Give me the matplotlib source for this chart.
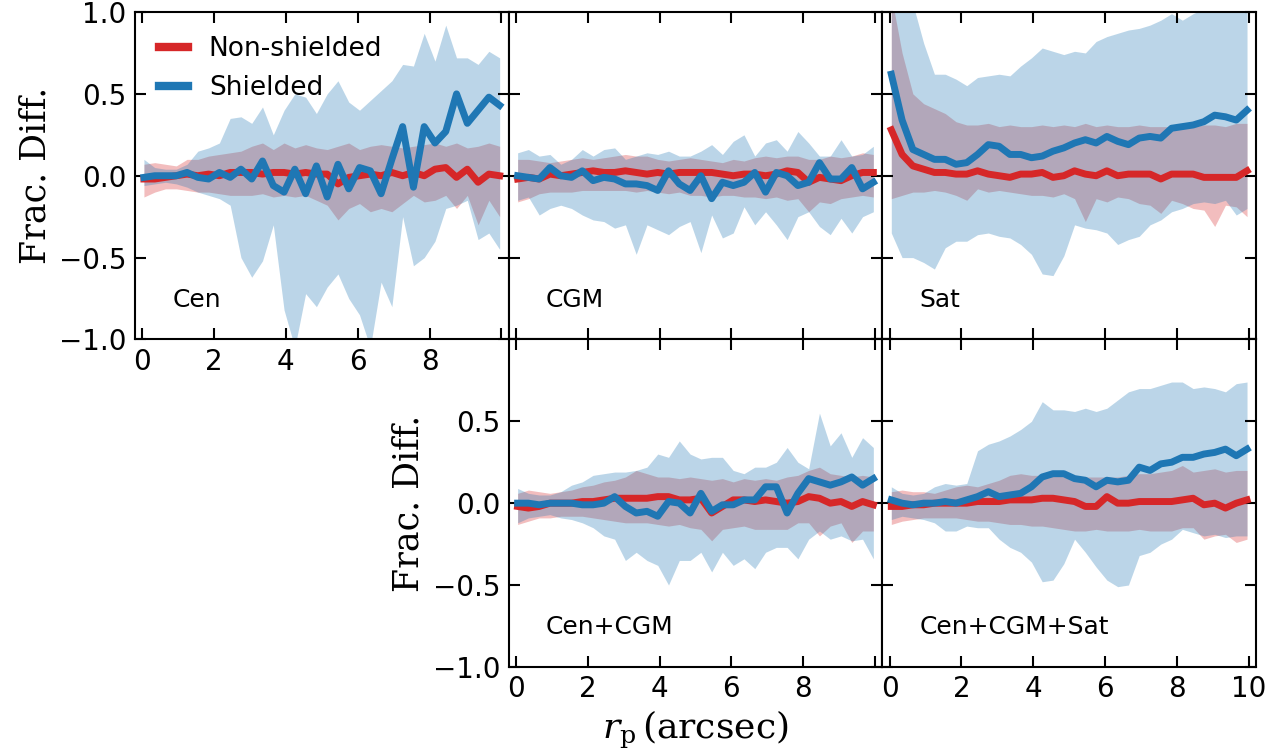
import matplotlib
matplotlib.use("Agg")
import matplotlib.pyplot as plt

plt.rcParams['mathtext.fontset'] = 'dejavuserif'

# projected radius bins (arcsec)
rp = [0.05, 0.35, 0.65, 0.95, 1.25, 1.55, 1.85, 2.15, 2.45, 2.75, 3.05, 3.35,
      3.65, 3.95, 4.25, 4.55, 4.85, 5.15, 5.45, 5.75, 6.05, 6.35, 6.65, 6.95,
      7.25, 7.55, 7.85, 8.15, 8.45, 8.75, 9.05, 9.35, 9.65, 9.95]

# Cen
cen_red = [-0.02, -0.02, -0.01, 0.0, 0.01, 0.0, 0.01, 0.0, 0.02, 0.02, 0.02, 0.01, 0.02, 0.02, 0.01, 0.02, 0.01,
           0.01, -0.05, -0.01, 0.0, 0.01, 0.0, 0.02, 0.0, 0.02, 0.0, 0.04, 0.05, -0.01, 0.04, -0.04, 0.01, 0.0]
cen_red_lo = [-0.13, -0.1, -0.08, -0.08, -0.09, -0.1, -0.1, -0.11, -0.12, -0.12, -0.12, -0.11, -0.13, -0.12, -0.13,
              -0.12, -0.15, -0.18, -0.27, -0.2, -0.17, -0.22, -0.2, -0.22, -0.17, -0.12, -0.16, -0.15, -0.12, -0.2,
              -0.12, -0.3, -0.15, -0.25]
cen_red_hi = [0.07, 0.08, 0.07, 0.06, 0.1, 0.1, 0.12, 0.13, 0.14, 0.15, 0.18, 0.2, 0.16, 0.2, 0.17, 0.19, 0.17,
              0.16, 0.18, 0.2, 0.16, 0.18, 0.19, 0.18, 0.17, 0.18, 0.19, 0.2, 0.18, 0.2, 0.17, 0.18, 0.2, 0.18]
cen_blue = [-0.01, 0.0, 0.0, 0.0, 0.02, -0.01, -0.02, 0.02, -0.01, 0.04, -0.02, 0.09, -0.06, -0.1, 0.04, -0.11,
            0.06, -0.13, 0.07, -0.08, 0.05, 0.03, -0.11, 0.1, 0.3, -0.07, 0.3, 0.2, 0.27, 0.5, 0.32, 0.4, 0.48, 0.43]
cen_blue_lo = [-0.06, -0.05, -0.04, -0.05, -0.07, -0.1, -0.12, -0.14, -0.18, -0.5, -0.62, -0.52, -0.3, -0.82,
               -1.05, -0.72, -0.8, -0.68, -0.6, -0.75, -0.85, -1.05, -0.65, -0.8, -0.25, -0.55, -0.5, -0.4, -0.2,
               -0.18, -0.15, -0.39, -0.35, -0.45]
cen_blue_hi = [0.1, 0.05, 0.04, 0.04, 0.07, 0.15, 0.17, 0.2, 0.35, 0.36, 0.32, 0.42, 0.25, 0.4, 0.5, 0.48, 0.38,
               0.5, 0.58, 0.45, 0.4, 0.46, 0.52, 0.58, 0.68, 0.67, 0.87, 0.7, 0.92, 0.72, 0.72, 0.68, 0.76, 0.72]

# CGM
cgm_red = [-0.02, -0.01, -0.02, 0.01, 0.0, 0.01, 0.02, 0.03, 0.02, 0.02, 0.03, 0.02, 0.01, 0.02, 0.01, 0.02, 0.02,
           0.02, 0.02, 0.01, 0.0, 0.01, 0.01, 0.0, 0.01, 0.03, 0.02, -0.04, -0.01, -0.02, -0.03, 0.0, 0.02, 0.02]
cgm_red_lo = [-0.16, -0.14, -0.11, -0.1, -0.1, -0.1, -0.09, -0.09, -0.09, -0.09, -0.09, -0.1, -0.09, -0.1, -0.11,
              -0.1, -0.12, -0.12, -0.13, -0.12, -0.12, -0.13, -0.13, -0.14, -0.13, -0.15, -0.14, -0.22, -0.16,
              -0.17, -0.14, -0.13, -0.12, -0.13]
cgm_red_hi = [0.1, 0.1, 0.09, 0.08, 0.09, 0.1, 0.11, 0.1, 0.11, 0.12, 0.13, 0.12, 0.12, 0.1, 0.09, 0.1, 0.11, 0.1,
              0.09, 0.08, 0.1, 0.09, 0.11, 0.12, 0.11, 0.12, 0.12, 0.1, 0.1, 0.12, 0.11, 0.12, 0.14, 0.13]
cgm_blue = [0.0, -0.01, -0.02, 0.05, 0.0, -0.01, 0.03, -0.03, -0.01, -0.02, -0.05, -0.05, -0.06, -0.09, 0.03,
            -0.05, -0.09, 0.0, -0.14, -0.04, -0.06, -0.04, 0.02, -0.1, 0.02, 0.0, -0.06, -0.04, 0.08, -0.02, -0.02,
            0.05, -0.08, -0.04]
cgm_blue_lo = [-0.15, -0.13, -0.24, -0.2, -0.18, -0.2, -0.24, -0.27, -0.28, -0.32, -0.3, -0.48, -0.3, -0.33,
               -0.36, -0.31, -0.28, -0.47, -0.24, -0.38, -0.35, -0.19, -0.3, -0.22, -0.3, -0.39, -0.25, -0.22,
               -0.31, -0.36, -0.26, -0.35, -0.25, -0.22]
cgm_blue_hi = [0.14, 0.16, 0.12, 0.13, 0.07, 0.1, 0.16, 0.12, 0.16, 0.17, 0.1, 0.12, 0.14, 0.13, 0.15, 0.12, 0.12,
               0.15, 0.19, 0.13, 0.21, 0.25, 0.12, 0.2, 0.22, 0.15, 0.27, 0.2, 0.12, 0.12, 0.22, 0.12, 0.13, 0.18]

# Sat
sat_red = [0.28, 0.13, 0.06, 0.04, 0.02, 0.02, 0.01, 0.01, 0.03, 0.01, 0.0, -0.01, 0.01, 0.01, 0.02, -0.01, 0.0,
           0.03, 0.01, 0.0, 0.03, 0.0, 0.01, 0.01, 0.01, -0.02, 0.01, 0.01, 0.01, -0.01, -0.01, -0.01, -0.01, 0.03]
sat_red_lo = [-0.14, -0.12, -0.1, -0.1, -0.09, -0.1, -0.12, -0.15, -0.08, -0.1, -0.09, -0.1, -0.11, -0.12, -0.12,
              -0.13, -0.11, -0.14, -0.28, -0.14, -0.16, -0.13, -0.14, -0.17, -0.18, -0.23, -0.15, -0.17, -0.2,
              -0.21, -0.31, -0.18, -0.19, -0.25]
sat_red_hi = [1.1, 0.75, 0.5, 0.44, 0.41, 0.38, 0.33, 0.31, 0.31, 0.32, 0.3, 0.31, 0.3, 0.3, 0.31, 0.3, 0.31, 0.3,
              0.32, 0.3, 0.31, 0.3, 0.3, 0.31, 0.3, 0.3, 0.3, 0.31, 0.3, 0.31, 0.31, 0.3, 0.32, 0.32]
sat_blue = [0.62, 0.34, 0.16, 0.13, 0.1, 0.1, 0.07, 0.08, 0.13, 0.19, 0.18, 0.13, 0.13, 0.11, 0.12, 0.15, 0.17,
            0.2, 0.22, 0.2, 0.24, 0.21, 0.19, 0.23, 0.24, 0.23, 0.29, 0.3, 0.31, 0.33, 0.37, 0.36, 0.34, 0.4]
sat_blue_lo = [-0.35, -0.5, -0.5, -0.53, -0.57, -0.44, -0.4, -0.4, -0.36, -0.35, -0.37, -0.38, -0.42, -0.48, -0.6,
               -0.61, -0.49, -0.3, -0.32, -0.33, -0.35, -0.42, -0.39, -0.37, -0.3, -0.27, -0.22, -0.2, -0.17,
               -0.16, -0.17, -0.15, -0.24, -0.2]
sat_blue_hi = [1.6, 1.4, 1.05, 0.81, 0.62, 0.62, 0.59, 0.55, 0.6, 0.61, 0.62, 0.61, 0.67, 0.72, 0.78, 0.76, 0.74,
               0.76, 0.75, 0.82, 0.85, 0.87, 0.89, 0.9, 0.92, 0.95, 0.99, 0.95, 0.99, 1.02, 1.05, 1.05, 1.08, 1.1]

# Cen+CGM
cc_red = [-0.02, -0.03, -0.02, 0.0, 0.0, 0.0, 0.01, 0.01, 0.02, 0.03, 0.03, 0.03, 0.03, 0.04, 0.04, 0.02, 0.02,
          0.03, -0.06, -0.02, 0.02, 0.02, 0.01, 0.02, 0.01, 0.0, 0.01, 0.04, 0.03, 0.0, 0.01, -0.02, 0.01, -0.01]
cc_red_lo = [-0.13, -0.11, -0.09, -0.09, -0.08, -0.08, -0.08, -0.09, -0.1, -0.11, -0.12, -0.12, -0.12, -0.13,
             -0.14, -0.13, -0.15, -0.16, -0.23, -0.16, -0.15, -0.14, -0.16, -0.16, -0.16, -0.16, -0.12, -0.12,
             -0.2, -0.14, -0.12, -0.24, -0.17, -0.17]
cc_red_hi = [0.06, 0.08, 0.07, 0.06, 0.07, 0.08, 0.1, 0.11, 0.13, 0.14, 0.16, 0.2, 0.18, 0.16, 0.16, 0.15, 0.16,
             0.15, 0.14, 0.15, 0.13, 0.15, 0.14, 0.15, 0.14, 0.16, 0.17, 0.2, 0.22, 0.18, 0.17, 0.16, 0.17, 0.16]
cc_blue = [0.0, 0.0, -0.01, 0.0, 0.0, 0.0, -0.01, -0.01, 0.0, 0.04, -0.02, -0.06, -0.05, -0.08, 0.01, 0.0, -0.06,
           0.06, -0.05, -0.01, -0.01, 0.02, 0.02, 0.1, 0.1, -0.06, 0.06, 0.15, 0.13, 0.11, 0.13, 0.16, 0.11, 0.15]
cc_blue_lo = [-0.12, -0.09, -0.08, -0.07, -0.09, -0.1, -0.12, -0.15, -0.2, -0.22, -0.35, -0.3, -0.35, -0.38, -0.5,
              -0.35, -0.35, -0.3, -0.42, -0.3, -0.38, -0.34, -0.4, -0.3, -0.27, -0.27, -0.34, -0.22, -0.17, -0.22,
              -0.2, -0.23, -0.22, -0.34]
cc_blue_hi = [0.09, 0.06, 0.05, 0.05, 0.07, 0.11, 0.13, 0.17, 0.18, 0.19, 0.19, 0.2, 0.22, 0.3, 0.28, 0.38, 0.3,
              0.27, 0.28, 0.28, 0.2, 0.18, 0.22, 0.22, 0.25, 0.34, 0.25, 0.21, 0.55, 0.35, 0.43, 0.28, 0.4, 0.34]

# Cen+CGM+Sat
ccs_red = [-0.02, -0.02, -0.01, -0.01, 0.0, 0.0, 0.0, 0.0, 0.01, 0.01, 0.01, 0.02, 0.02, 0.02, 0.03, 0.03, 0.02,
           0.01, -0.02, -0.02, 0.04, 0.0, 0.0, 0.01, 0.01, 0.01, 0.01, 0.02, 0.03, -0.01, 0.0, -0.03, 0.0, 0.02]
ccs_red_lo = [-0.13, -0.11, -0.1, -0.09, -0.09, -0.09, -0.09, -0.1, -0.11, -0.11, -0.12, -0.13, -0.13, -0.14,
              -0.14, -0.15, -0.16, -0.17, -0.17, -0.16, -0.17, -0.17, -0.17, -0.16, -0.17, -0.17, -0.17, -0.15,
              -0.15, -0.22, -0.2, -0.19, -0.24, -0.22]
ccs_red_hi = [0.07, 0.08, 0.07, 0.07, 0.06, 0.08, 0.1, 0.11, 0.1, 0.12, 0.14, 0.17, 0.18, 0.17, 0.17, 0.18, 0.16,
              0.16, 0.16, 0.16, 0.16, 0.16, 0.17, 0.18, 0.18, 0.19, 0.2, 0.23, 0.19, 0.2, 0.21, 0.19, 0.2, 0.2]
ccs_blue = [0.02, 0.0, -0.01, 0.0, 0.0, 0.01, 0.0, 0.02, 0.04, 0.07, 0.04, 0.05, 0.06, 0.1, 0.16, 0.18, 0.18, 0.15,
            0.14, 0.1, 0.14, 0.13, 0.14, 0.22, 0.2, 0.24, 0.25, 0.28, 0.28, 0.3, 0.31, 0.33, 0.29, 0.33]
ccs_blue_lo = [-0.1, -0.08, -0.09, -0.1, -0.12, -0.17, -0.17, -0.14, -0.15, -0.15, -0.22, -0.27, -0.3, -0.36,
               -0.48, -0.47, -0.37, -0.22, -0.3, -0.39, -0.47, -0.51, -0.5, -0.32, -0.3, -0.25, -0.22, -0.16,
               -0.18, -0.2, -0.19, -0.21, -0.2, -0.2]
ccs_blue_hi = [0.1, 0.06, 0.05, 0.06, 0.1, 0.12, 0.11, 0.12, 0.32, 0.36, 0.38, 0.41, 0.45, 0.5, 0.62, 0.57, 0.57,
               0.56, 0.58, 0.56, 0.58, 0.63, 0.68, 0.7, 0.7, 0.72, 0.74, 0.74, 0.7, 0.71, 0.7, 0.68, 0.73, 0.74]

panels = [
    (0, 0, "Cen", cen_red, cen_red_lo, cen_red_hi, cen_blue, cen_blue_lo, cen_blue_hi),
    (0, 1, "CGM", cgm_red, cgm_red_lo, cgm_red_hi, cgm_blue, cgm_blue_lo, cgm_blue_hi),
    (0, 2, "Sat", sat_red, sat_red_lo, sat_red_hi, sat_blue, sat_blue_lo, sat_blue_hi),
    (1, 1, "Cen+CGM", cc_red, cc_red_lo, cc_red_hi, cc_blue, cc_blue_lo, cc_blue_hi),
    (1, 2, "Cen+CGM+Sat", ccs_red, ccs_red_lo, ccs_red_hi, ccs_blue, ccs_blue_lo, ccs_blue_hi),
]

xticks = [0, 2, 4, 6, 8, 10]
yticks = [-1.0, -0.5, 0.0, 0.5, 1.0]

fig, axes = plt.subplots(2, 3, figsize=(12.84, 7.51), dpi=100)
fig.subplots_adjust(left=0.1051, right=0.9782, top=0.984, bottom=0.112, wspace=0, hspace=0)
axes[1, 0].axis('off')

for row, col, name, red, red_lo, red_hi, blue, blue_lo, blue_hi in panels:
    ax = axes[row, col]
    ax.fill_between(rp, red_lo, red_hi, color='tab:red', alpha=0.3, lw=0)
    ax.fill_between(rp, blue_lo, blue_hi, color='tab:blue', alpha=0.3, lw=0)
    ax.plot(rp, red, color='tab:red', lw=5, label='Non-shielded')
    ax.plot(rp, blue, color='tab:blue', lw=5, label='Shielded')
    ax.text(0.1, 0.1, name, transform=ax.transAxes, fontsize=18)

    ax.set_xlim(-0.2, 10.2)
    ax.set_ylim(-1.0, 1.0)
    ax.set_xticks(xticks)
    ax.set_yticks(yticks)
    ax.tick_params(direction='in', top=True, right=True, length=8, width=1.5,
                   labelsize=20, pad=6)
    for sp in ax.spines.values():
        sp.set_linewidth(1.5)

    # x labels only where no panel sits below
    if row == 1 or col == 0:
        labels = [str(t) for t in xticks]
        if col != 2:
            labels[-1] = ''
        ax.set_xticklabels(labels)
    else:
        ax.tick_params(labelbottom=False)

    # y labels on the leftmost panel of each row
    if (row == 0 and col == 0) or (row == 1 and col == 1):
        labels = [f"{t:.1f}".replace('-', '\u2212') for t in yticks]
        if row == 1:
            labels[-1] = ''
        ax.set_yticklabels(labels)
        ax.set_ylabel("Frac. Diff.", family='DejaVu Serif', fontsize=25, labelpad=5)
    else:
        ax.tick_params(labelleft=False)

leg = axes[0, 0].legend(loc='upper left', frameon=False, fontsize=19,
                        handlelength=1.1, handletextpad=0.8)
for line in leg.get_lines():
    line.set_linewidth(6)

axes[1, 1].set_xlabel(r"$r_\mathrm{p}\,$(arcsec)", family='DejaVu Serif', fontsize=26, labelpad=4)

plt.savefig("out.png", dpi=100)
